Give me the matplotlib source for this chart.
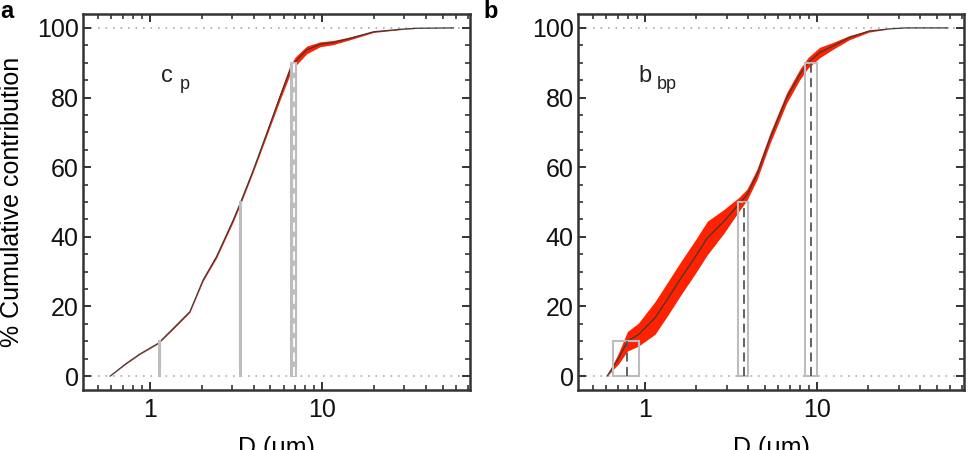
import matplotlib
matplotlib.use("Agg")
import matplotlib.pyplot as plt
from matplotlib.ticker import FixedLocator, NullFormatter, FixedFormatter
from matplotlib.patches import Rectangle

plt.rcParams['font.family'] = ['Liberation Sans', 'DejaVu Sans']

# ---- Panel a: c_p ----
a_D = [0.59, 0.73, 0.875, 1.12, 1.37, 1.71, 2.04, 2.44, 3.05, 3.41, 3.99, 4.77,
       5.70, 6.51, 6.97, 8.15, 9.74, 11.6, 14.5, 19.9, 28.4, 35.5, 57.7]
a_cum = [0.0, 3.6, 6.3, 9.4, 13.7, 18.5, 27.6, 34.3, 44.8, 50.6, 59.2, 69.7,
         80.3, 87.9, 90.3, 93.7, 95.3, 95.8, 97.0, 98.9, 99.6, 99.9, 100.0]
a_lo = [0.0, 3.5, 6.2, 9.3, 13.5, 18.3, 27.3, 33.9, 44.3, 50.1, 58.7, 69.0,
        79.3, 86.6, 89.0, 92.6, 94.6, 95.2, 96.6, 98.7, 99.5, 99.9, 100.0]
a_hi = [0.0, 3.7, 6.4, 9.5, 13.9, 18.7, 27.9, 34.7, 45.3, 51.1, 59.7, 70.4,
        81.3, 89.2, 91.6, 94.8, 96.0, 96.4, 97.4, 99.1, 99.7, 99.9, 100.0]
# D10, D50, D90 ranges (low, median, high) and their percentile levels
a_pct_levels = [10, 50, 90]
a_pct_lo = [1.13, 3.36, 6.62]
a_pct_med = [1.14, 3.38, 6.85]
a_pct_hi = [1.15, 3.40, 7.10]

# ---- Panel b: b_bp ----
b_D = [0.605, 0.706, 0.795, 0.92, 1.15, 1.37, 1.63, 1.95, 2.32, 2.9, 3.53, 3.94,
       4.5, 5.37, 6.7, 7.98, 8.92, 10.4, 12.4, 15.5, 20.2, 26.3, 32.8, 58.0]
b_cum = [0.0, 5.1, 10.0, 11.9, 16.7, 22.4, 28.2, 33.9, 39.7, 44.5, 49.3, 52.1,
         57.9, 68.4, 79.9, 86.6, 90.0, 92.9, 94.8, 97.2, 99.1, 99.7, 100.0, 100.0]
b_lo = [0.0, 3.5, 7.2, 8.6, 12.0, 17.6, 23.4, 29.1, 34.9, 41.1, 47.3, 50.5,
        56.4, 66.9, 78.4, 85.1, 88.5, 91.4, 93.8, 96.6, 98.8, 99.7, 100.0, 100.0]
b_hi = [0.0, 6.7, 12.8, 15.2, 21.4, 27.2, 33.0, 38.7, 44.5, 47.9, 51.3, 53.7,
        59.4, 69.9, 81.4, 88.1, 91.5, 94.4, 95.8, 97.8, 99.4, 99.7, 100.0, 100.0]
b_pct_levels = [10, 50, 90]
b_pct_lo = [0.652, 3.50, 8.61]
b_pct_med = [0.795, 3.77, 9.24]
b_pct_hi = [0.927, 3.98, 10.04]

x_major = [1, 10]
x_major_labels = ["1", "10"]
x_minor = [0.5, 0.6, 0.7, 0.8, 0.9, 2, 3, 4, 5, 6, 7, 8, 9, 20, 30, 40, 50, 60, 70]
y_major = [0, 20, 40, 60, 80, 100]
y_minor = list(range(0, 101, 5))

fig = plt.figure(figsize=(9.68, 4.5), dpi=100)
ax_a = fig.add_axes([0.0857, 0.1333, 0.3998, 0.8356])
ax_b = fig.add_axes([0.5971, 0.1333, 0.3988, 0.8356])

RED = "#ff2200"
BOXC = "#bdbdbd"
FS = 18


def style(ax):
    ax.set_xscale("log")
    ax.set_xlim(0.41, 72)
    ax.set_ylim(-4, 104)
    ax.xaxis.set_major_locator(FixedLocator(x_major))
    ax.xaxis.set_major_formatter(FixedFormatter(x_major_labels))
    ax.xaxis.set_minor_locator(FixedLocator(x_minor))
    ax.xaxis.set_minor_formatter(NullFormatter())
    ax.yaxis.set_major_locator(FixedLocator(y_major))
    ax.yaxis.set_minor_locator(FixedLocator(y_minor))
    ax.tick_params(which="both", direction="in", top=True, right=True,
                   color="#333333", labelsize=FS, labelcolor="#111111")
    ax.tick_params(which="major", length=6, width=1.4)
    ax.tick_params(axis="y", which="major", pad=3)
    ax.tick_params(axis="x", which="major", pad=6)
    ax.tick_params(which="minor", length=3.5, width=1.2)
    for s in ax.spines.values():
        s.set_linewidth(1.8)
        s.set_color("#333333")
    ax.axhline(0, color="#aaaaaa", lw=1.2, ls=(0, (1, 3.5)), zorder=1)
    ax.axhline(100, color="#aaaaaa", lw=1.2, ls=(0, (1, 3.5)), zorder=1)
    ax.set_xlabel("D (μm)", fontsize=FS, labelpad=10)


def draw(ax, D, cum, lo, hi, levels, plo, pmed, phi, dash_color, filled):
    ax.fill_between(D, lo, hi, color=RED, lw=0, zorder=2)
    ax.plot(D, cum, color="#3a3a3a", lw=0.9, zorder=3)
    for lev, l, m, h in zip(levels, plo, pmed, phi):
        ax.add_patch(Rectangle((l, 0), h - l, lev, fill=filled,
                               facecolor=BOXC, edgecolor=BOXC, lw=1.5, zorder=4))
        if (h - l) / l > 0.05:
            ax.plot([m, m], [0, lev], color=dash_color, lw=1.3,
                    ls=(0, (5, 3)), zorder=5)


style(ax_a)
style(ax_b)
draw(ax_a, a_D, a_cum, a_lo, a_hi, a_pct_levels, a_pct_lo, a_pct_med, a_pct_hi,
     "white", True)
draw(ax_b, b_D, b_cum, b_lo, b_hi, b_pct_levels, b_pct_lo, b_pct_med, b_pct_hi,
     "#555555", False)

ax_a.set_ylabel("% Cumulative contribution", fontsize=FS)
ax_a.yaxis.set_label_coords(-0.152, 0.5)

ax_a.text(1.17, 84.5, "c", fontsize=17, color="#222222", ha="left", va="baseline")
ax_a.text(1.49, 82.5, "p", fontsize=13, color="#222222", ha="left", va="baseline")
ax_b.text(0.92, 84.5, "b", fontsize=17, color="#222222", ha="left", va="baseline")
ax_b.text(1.17, 82.5, "bp", fontsize=13, color="#222222", ha="left", va="baseline")

fig.text(0.0, 0.999, "a", fontsize=17, fontweight="bold", ha="left", va="top")
fig.text(0.499, 0.999, "b", fontsize=17, fontweight="bold", ha="left", va="top")

fig.savefig("out.png", dpi=100)
